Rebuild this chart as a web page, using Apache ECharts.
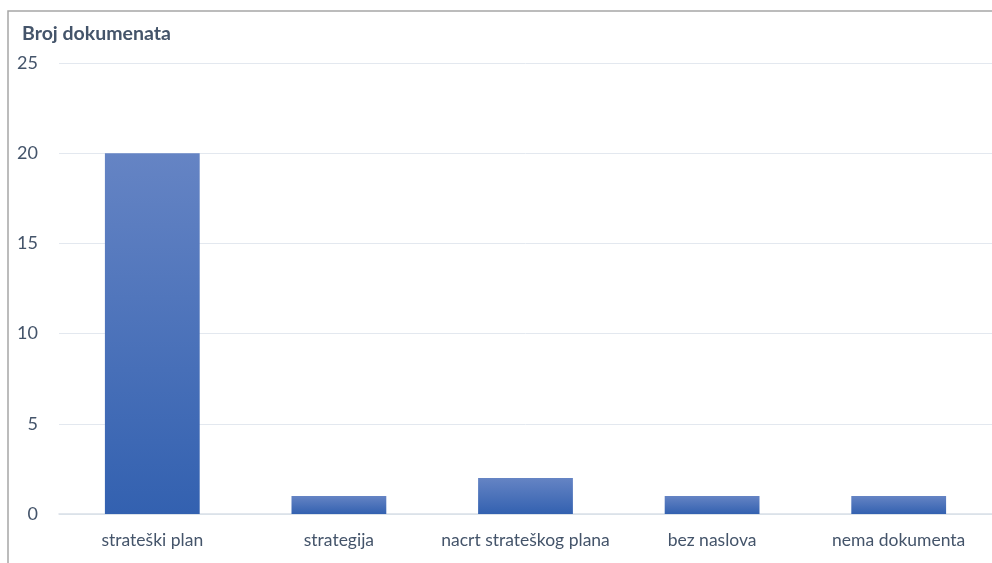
<!DOCTYPE html>
<html>
<head>
<meta charset="utf-8">
<script src="https://cdn.jsdelivr.net/npm/echarts@6/dist/echarts.min.js"></script>
<style>
  html, body { margin: 0; padding: 0; background: #fff; }
  #chart { width: 992px; height: 563px; }
</style>
</head>
<body>
<div id="chart"></div>
<script>
// Document types and how many documents of each type were found
const categories = ['strateški plan', 'strategija', 'nacrt strateškog plana', 'bez naslova', 'nema dokumenta'];
const counts = [20, 1, 2, 1, 1];
const yTicks = { min: 0, max: 25, interval: 5 };

const textColor = '#44546A';
const font = 'Lato, "Open Sans", sans-serif';

const chart = echarts.init(document.getElementById('chart'));
chart.setOption({
  animation: false,
  title: {
    text: 'Broj dokumenata',
    left: 22,
    top: 24,
    padding: 0,
    textStyle: { color: textColor, fontSize: 19.5, fontWeight: 'bold', fontFamily: font }
  },
  graphic: [
    {
      type: 'polyline',
      shape: { points: [[8, 600], [8, 11], [1000, 11]] },
      style: { stroke: '#a6a6a6', lineWidth: 1.5, fill: null },
      silent: true
    }
  ],
  grid: { left: 59, right: -6, top: 63, bottom: 49 },
  xAxis: {
    type: 'category',
    data: categories,
    axisLine: { show: true, lineStyle: { color: '#d9dfe8', width: 1.5 } },
    axisTick: { show: false },
    axisLabel: { color: textColor, fontSize: 17.5, fontFamily: font, margin: 17, interval: 0 }
  },
  yAxis: {
    type: 'value',
    min: yTicks.min,
    max: yTicks.max,
    interval: yTicks.interval,
    axisLine: { show: false },
    axisTick: { show: false },
    splitLine: { lineStyle: { color: '#e3e8ef', width: 1 } },
    axisLabel: { color: textColor, fontSize: 18, fontFamily: font, margin: 21 }
  },
  series: [{
    type: 'bar',
    data: counts,
    barWidth: '50.8%',
    itemStyle: {
      color: new echarts.graphic.LinearGradient(0, 0, 0, 1, [
        { offset: 0, color: '#6584c4' },
        { offset: 1, color: '#3361b0' }
      ])
    }
  }]
});
</script>
</body>
</html>
